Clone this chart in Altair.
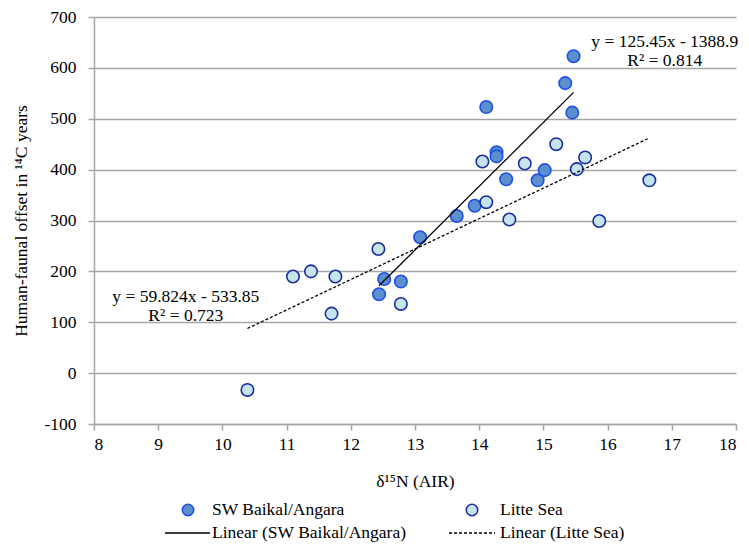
import altair as alt
import pandas as pd

# ---- data ----
sw_x = [15.47, 15.34, 15.45, 14.11, 14.27, 14.27, 14.42, 14.91, 15.02, 13.93, 13.65, 13.08, 12.52, 12.78, 12.44]
sw_y = [623, 570, 512, 523, 434, 426, 381, 379, 399, 329, 309, 267, 185, 180, 155]

ls_x = [14.05, 14.71, 15.20, 15.65, 15.52, 14.11, 14.47, 15.87, 12.43, 11.10, 11.38, 11.76, 12.78, 11.70, 10.39, 16.65]
ls_y = [416, 412, 450, 424, 401, 336, 302, 299, 244, 190, 200, 190, 136, 117, -33, 379]

groups = ["SW Baikal/Angara", "Litte Sea"]
slopes = [125.45, 59.824]
intercepts = [-1388.9, -533.85]
eq_labels = ["y = 125.45x - 1388.9\nR² = 0.814", "y = 59.824x - 533.85\nR² = 0.723"]
eq_pos_x = [16.89, 9.43]
eq_pos_y = [650, 150]

x_ticks = list(range(8, 19))
y_ticks = list(range(-100, 701, 100))

FONT = "'Liberation Serif', 'Times New Roman', 'DejaVu Serif', serif"
FS = 17.5
W, H = 642, 407

pts = pd.DataFrame({
    "x": sw_x + ls_x,
    "y": sw_y + ls_y,
    "group": [groups[0]] * len(sw_x) + [groups[1]] * len(ls_x),
})

line_rows = []
for g, xs, m, b in zip(groups, [sw_x, ls_x], slopes, intercepts):
    for xv in (min(xs), max(xs)):
        line_rows.append({"group": g, "x": xv, "y": m * xv + b})
lines = pd.DataFrame(line_rows)

eqs = pd.DataFrame({"x": eq_pos_x, "y": eq_pos_y, "label": eq_labels})

xscale = alt.Scale(domain=[8, 18], nice=False, zero=False)
yscale = alt.Scale(domain=[-100, 700], nice=False, zero=False)

label_expr = "datum.value < 0 ? '-' + abs(datum.value) : '' + datum.value"

xaxis = alt.Axis(values=x_ticks, grid=False, title="δ¹⁵N (AIR)", tickSize=6,
                 labelPadding=5, labelExpr=label_expr,
                 titleX=W / 2, titleY=57, titleBaseline="middle", titleAlign="center")
yaxis = alt.Axis(values=y_ticks, grid=True, title="Human-faunal offset in ¹⁴C years",
                 tickSize=6, labelPadding=12, labelExpr=label_expr,
                 titleX=-73, titleY=H / 2, titleBaseline="middle", titleAlign="center")

fill_scale = alt.Scale(domain=groups, range=["#5C8FCD", "#C6E4EC"])
stroke_scale = alt.Scale(domain=groups, range=["#1E50E6", "#1A2DA0"])

points = alt.Chart(pts).mark_point(shape="circle", filled=False, size=155,
                                   strokeWidth=1.6, opacity=1, fillOpacity=1).encode(
    x=alt.X("x:Q", scale=xscale, axis=xaxis),
    y=alt.Y("y:Q", scale=yscale, axis=yaxis),
    fill=alt.Fill("group:N", scale=fill_scale, legend=None),
    stroke=alt.Stroke("group:N", scale=stroke_scale, legend=None),
)

solid = alt.Chart(lines[lines.group == groups[0]]).mark_line(color="black", strokeWidth=1.3).encode(
    x=alt.X("x:Q", scale=xscale), y=alt.Y("y:Q", scale=yscale))
dashed = alt.Chart(lines[lines.group == groups[1]]).mark_line(color="black", strokeWidth=1.3,
                                                              strokeDash=[3, 2]).encode(
    x=alt.X("x:Q", scale=xscale), y=alt.Y("y:Q", scale=yscale))

eq_text = alt.Chart(eqs).mark_text(font=FONT, fontSize=FS, align="center", baseline="middle",
                                   lineBreak="\n", lineHeight=19, color="black").encode(
    x=alt.X("x:Q", scale=xscale), y=alt.Y("y:Q", scale=yscale), text="label:N")

# ---- manual legend below the plot ----
leg = pd.DataFrame({"label": groups})
row1, row2 = 493, 516

def leg_point(i, xpos):
    return alt.Chart(leg.iloc[[i]]).mark_point(shape="circle", filled=True, size=130,
                                               strokeWidth=1.6, opacity=1).encode(
        x=alt.value(xpos), y=alt.value(row1),
        fill=alt.value(fill_scale.range[i]), stroke=alt.value(stroke_scale.range[i]))

def leg_text(label, xpos, ypos):
    return alt.Chart(pd.DataFrame({"t": [label]})).mark_text(
        font=FONT, fontSize=FS, align="left", baseline="middle", color="black").encode(
        x=alt.value(xpos), y=alt.value(ypos), text="t:N")

leg_solid = alt.Chart(leg.iloc[[0]]).mark_rule(color="black", strokeWidth=1.3).encode(
    x=alt.value(71), x2=alt.value(116), y=alt.value(row2))
leg_dash = alt.Chart(leg.iloc[[1]]).mark_rule(color="black", strokeWidth=1.3, strokeDash=[3, 2]).encode(
    x=alt.value(355), x2=alt.value(401), y=alt.value(row2))

legend_layers = [
    leg_point(0, 94), leg_text(groups[0], 118, row1),
    leg_point(1, 378), leg_text(groups[1], 406, row1),
    leg_solid, leg_text("Linear (" + groups[0] + ")", 118, row2),
    leg_dash, leg_text("Linear (" + groups[1] + ")", 406, row2),
]

chart = alt.layer(points, solid, dashed, eq_text, *legend_layers).properties(
    width=W, height=H,
    autosize=alt.AutoSizeParams(type="none"),
    padding={"left": 86, "top": 9, "right": 5, "bottom": 119},
).configure_view(stroke=None).configure_axis(
    labelFont=FONT, titleFont=FONT, labelFontSize=FS, titleFontSize=FS,
    labelColor="black", titleColor="black", titleFontWeight="normal",
    domainColor="#A6A6A6", domainWidth=1.5, tickColor="#A6A6A6", tickWidth=1.5,
    gridColor="#A6A6A6", gridWidth=1.5,
)

chart.save("out.html", embed_options={"renderer": "svg", "actions": False})
